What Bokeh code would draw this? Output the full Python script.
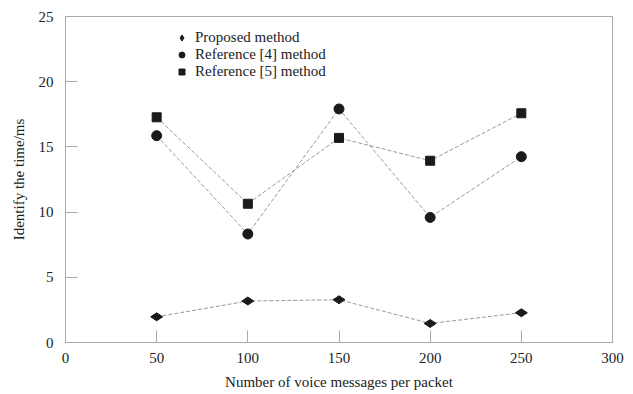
import math
from bokeh.plotting import figure
from bokeh.models import Legend, LegendItem, FixedTicker, Range1d
from bokeh.embed import file_html
from bokeh.resources import INLINE

x_vals = [50, 100, 150, 200, 250]
proposed = [1.97, 3.18, 3.28, 1.46, 2.28]
ref4 = [15.86, 8.32, 17.91, 9.59, 14.25]
ref5 = [17.27, 10.64, 15.69, 13.94, 17.58]
x_ticks = [0, 50, 100, 150, 200, 250, 300]
y_ticks = [0, 5, 10, 15, 20, 25]
labels = ["Proposed method", "Reference [4] method", "Reference [5] method"]

FONT = "Liberation Serif"
MARK = "#1a1a1a"
LINE = "#9a9a9a"
FRAME = "#aaaaaa"

p = figure(width=633, height=394, output_backend="svg", toolbar_location=None,
           x_range=Range1d(0, 300), y_range=Range1d(0, 25),
           min_border_left=65, min_border_right=21, min_border_top=16, min_border_bottom=52)
p.background_fill_color = "white"
p.border_fill_color = "white"
p.outline_line_color = FRAME
p.outline_line_width = 1
p.grid.visible = False

for ax, ticks in ((p.xaxis[0], x_ticks), (p.yaxis[0], y_ticks)):
    ax.ticker = FixedTicker(ticks=ticks)
    ax.axis_line_color = FRAME
    ax.major_tick_line_color = FRAME
    ax.major_tick_in = 12
    ax.major_tick_out = 0
    ax.minor_tick_line_color = None
    ax.major_label_text_font = FONT
    ax.major_label_text_font_size = "15px"
    ax.major_label_text_color = "#222222"
    ax.axis_label_text_font = FONT
    ax.axis_label_text_font_size = "15px"
    ax.axis_label_text_font_style = "normal"
    ax.axis_label_text_color = "#222222"

p.xaxis.axis_label = "Number of voice messages per packet"
p.yaxis.axis_label = "Identify the time/ms"
p.xaxis.major_label_standoff = 10
p.xaxis.axis_label_standoff = 8
p.yaxis.major_label_standoff = 12
p.yaxis.axis_label_standoff = 9
p.yaxis.major_label_orientation = "horizontal"

dash = "4 2"
for ys in (proposed, ref4, ref5):
    p.line(x_vals, ys, line_color=LINE, line_width=1, line_dash=dash)

r1 = p.scatter(x_vals, proposed, marker="diamond", size=12, angle=math.pi / 2,
               fill_color=MARK, line_color=MARK)
r2 = p.scatter(x_vals, ref4, marker="circle", size=10, fill_color=MARK, line_color=MARK)
r3 = p.scatter(x_vals, ref5, marker="square", size=9, fill_color=MARK, line_color=MARK)

legend = Legend(items=[LegendItem(label=labels[0], renderers=[r1]),
                       LegendItem(label=labels[1], renderers=[r2]),
                       LegendItem(label=labels[2], renderers=[r3])],
                location=(109, 262))
legend.border_line_color = None
legend.background_fill_alpha = 0
legend.padding = 0
legend.margin = 0
legend.spacing = 0
legend.glyph_width = 15
legend.glyph_height = 15
legend.label_height = 15
legend.label_standoff = 6
legend.label_text_font = FONT
legend.label_text_font_size = "15px"
legend.label_text_color = "#222222"
p.add_layout(legend, "center")

open("out.html", "w").write(file_html(p, INLINE))
